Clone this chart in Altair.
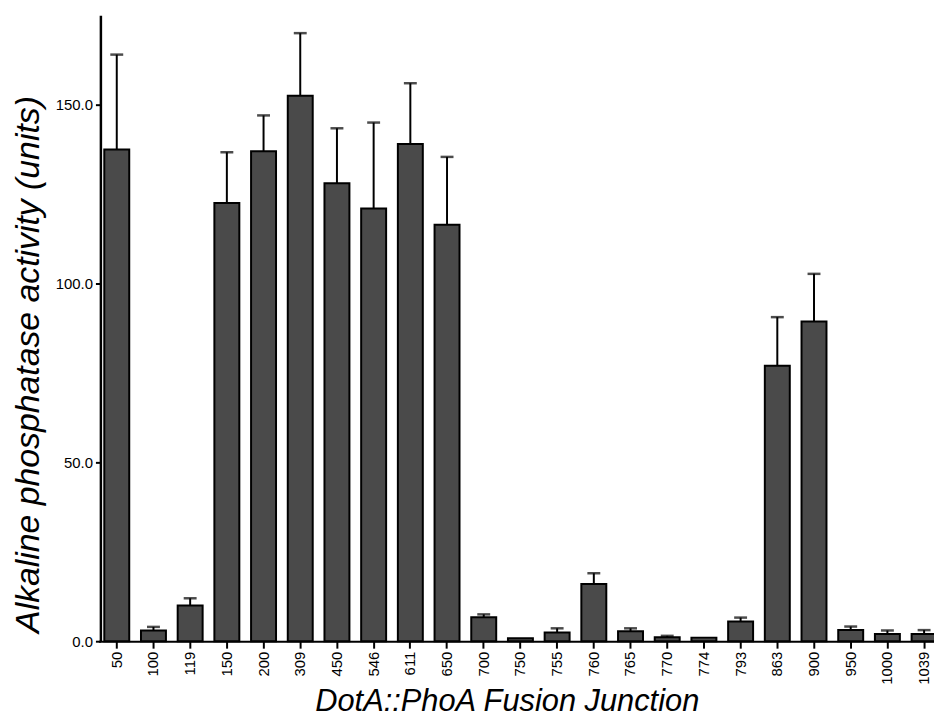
import altair as alt
import pandas as pd

categories = ["50", "100", "119", "150", "200", "309", "450", "546", "611", "650",
              "700", "750", "755", "760", "765", "770", "774", "793", "863", "900",
              "950", "1000", "1039"]
values = [137.5, 3.0, 10.0, 122.5, 137.0, 152.5, 128.0, 121.0, 139.0, 116.4,
          6.7, 0.8, 2.4, 16.0, 2.8, 1.1, 1.0, 5.5, 77.0, 89.4,
          3.1, 2.0, 2.0]
errors = [26.5, 1.0, 2.0, 14.2, 10.0, 17.5, 15.4, 24.0, 17.0, 19.0,
          0.8, 0.0, 1.2, 3.0, 0.8, 0.4, 0.0, 1.1, 13.6, 13.3,
          1.0, 1.0, 1.1]
y_ticks = [0, 50, 100, 150]

df = pd.DataFrame({"junction": categories, "activity": values, "err": errors})
df["upper"] = df["activity"] + df["err"]

FONT = "Liberation Sans"

x_enc = alt.X(
    "junction:N",
    sort=None,
    scale=alt.Scale(range=[-2, 847.5], paddingInner=0.32, paddingOuter=0.16),
    axis=alt.Axis(
        title="DotA::PhoA Fusion Junction",
        titleFont=FONT, titleFontSize=31, titleFontStyle="italic", titleFontWeight="normal",
        titleColor="black", titleAlign="center", titleBaseline="alphabetic",
        titleX=409, titleY=70,
        labelAngle=270, labelAlign="right", labelBaseline="middle",
        labelFont=FONT, labelFontSize=15, labelColor="black", labelPadding=3,
        tickSize=7, tickWidth=2, tickColor="black",
        domainColor="black", domainWidth=2,
    ),
)

y_scale = alt.Scale(domain=[0, 175], nice=False)
y_axis = alt.Axis(
    title="Alkaline phosphatase activity (units)",
    titleFont=FONT, titleFontSize=34, titleFontStyle="italic", titleFontWeight="normal",
    titleColor="black", titleAngle=270, titleAlign="center", titleBaseline="alphabetic",
    titleX=-62, titleY=351,
    values=y_ticks, format=".1f",
    labelFont=FONT, labelFontSize=15, labelColor="black", labelPadding=3,
    tickSize=5, tickWidth=2, tickColor="black",
    domainColor="black", domainWidth=2.5, grid=False,
)

base = alt.Chart(df)

bars = base.mark_bar(fill="#4a4a4a", stroke="black", strokeWidth=2).encode(
    x=x_enc,
    y=alt.Y("activity:Q", scale=y_scale, axis=y_axis),
)

rules = base.transform_filter("datum.err > 0").mark_rule(color="black", strokeWidth=2).encode(
    x=alt.X("junction:N", sort=None),
    y=alt.Y("activity:Q", scale=y_scale),
    y2="upper:Q",
)

caps = base.transform_filter("datum.err > 0").mark_tick(
    color="black", thickness=2.5, size=13, orient="horizontal"
).encode(
    x=alt.X("junction:N", sort=None),
    y=alt.Y("upper:Q", scale=y_scale),
)

chart = alt.layer(bars, rules, caps).properties(
    width=825,
    height=630,
    padding={"left": 93, "top": 5, "right": 14, "bottom": 76},
    autosize=alt.AutoSizeParams(type="none"),
    background="white",
).configure_view(stroke="transparent", strokeWidth=0)

chart.save("out.html", embed_options={"renderer": "svg", "actions": False})
